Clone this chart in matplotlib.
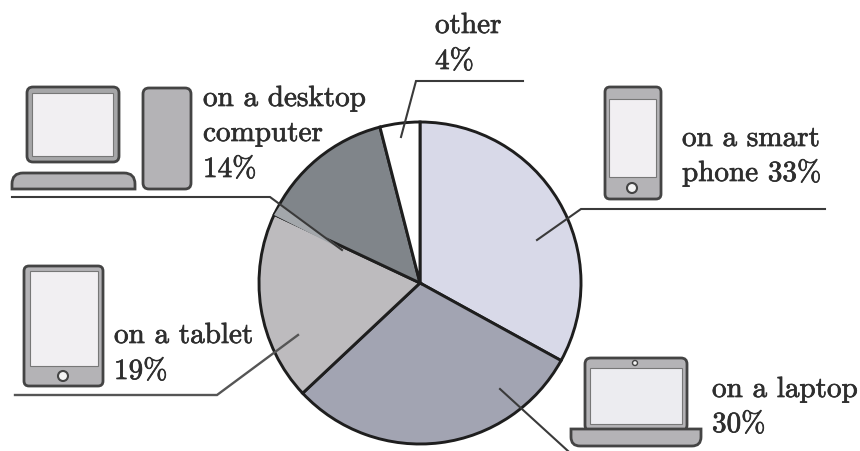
import matplotlib
matplotlib.use("Agg")
import matplotlib.pyplot as plt
import matplotlib.patheffects as pe
from matplotlib.patches import FancyBboxPatch, Circle, Polygon, PathPatch
from matplotlib.path import Path

plt.rcParams['font.family'] = ['cmr10', 'DejaVu Serif']
plt.rcParams['axes.unicode_minus'] = False
plt.rcParams['axes.formatter.use_mathtext'] = True

categories = ["on a smart phone", "on a laptop", "on a tablet", "on a desktop computer", "other"]
shares = [33, 30, 19, 14, 4]
colors = ["#d8d9e8", "#a2a4b2", "#bdbbbe", "#80858a", "#ffffff"]

W, H = 860, 452
fig = plt.figure(figsize=(W / 100, H / 100), dpi=100)
ax = fig.add_axes([0, 0, 1, 1])

def Y(py):
    return H - py

ax.pie(shares, colors=colors, startangle=90, counterclock=False,
       center=(420, Y(284)), radius=161, normalize=True,
       wedgeprops=dict(edgecolor="#1e1e1e", linewidth=2.1), frame=True)
ax.set_xlim(0, W)
ax.set_ylim(0, H)
ax.set_aspect("equal")
ax.axis("off")

INK = "#444444"
SCREEN = "#f1eff2"
BODY = "#b4b3b6"

def rbox(x0, y0, x1, y1, fc, r=4, lw=2.0, ec=INK, z=3):
    ax.add_patch(FancyBboxPatch((x0 + r, Y(y1) + r), x1 - x0 - 2 * r, y1 - y0 - 2 * r,
                                boxstyle=f"round,pad={r},rounding_size={r}",
                                fc=fc, ec=ec, lw=lw, zorder=z))

def rect(x0, y0, x1, y1, fc, lw=0.8, ec="#777777", z=4):
    ax.add_patch(plt.Rectangle((x0, Y(y1)), x1 - x0, y1 - y0, fc=fc, ec=ec, lw=lw, zorder=z))

def circ(x, y, r, fc="#f4f4f4", lw=1.5):
    ax.add_patch(Circle((x, Y(y)), r, fc=fc, ec=INK, lw=lw, zorder=5))

def leader(points, color="#3a3a3a", lw=1.5):
    ax.plot([p[0] for p in points], [Y(p[1]) for p in points], color=color, lw=lw, zorder=6,
            solid_joinstyle="miter", clip_on=True)

def top_round(x0, y0, x1, y1, r, fc, ec=INK, lw=2.0):
    verts = [(x0, Y(y1)), (x0, Y(y0 + r)), (x0, Y(y0)), (x0 + r, Y(y0)), (x1 - r, Y(y0)),
             (x1, Y(y0)), (x1, Y(y0 + r)), (x1, Y(y1)), (x0, Y(y1))]
    codes = [Path.MOVETO, Path.LINETO, Path.CURVE3, Path.CURVE3, Path.LINETO,
             Path.CURVE3, Path.CURVE3, Path.LINETO, Path.CLOSEPOLY]
    ax.add_patch(PathPatch(Path(verts, codes), fc=fc, ec=ec, lw=lw, zorder=3))

def bottom_round(x0, y0, x1, y1, r, fc, ec=INK, lw=2.0):
    verts = [(x0, Y(y0)), (x1, Y(y0)), (x1, Y(y1 - r)), (x1, Y(y1)), (x1 - r, Y(y1)),
             (x0 + r, Y(y1)), (x0, Y(y1)), (x0, Y(y1 - r)), (x0, Y(y0))]
    codes = [Path.MOVETO, Path.LINETO, Path.LINETO, Path.CURVE3, Path.CURVE3,
             Path.LINETO, Path.CURVE3, Path.CURVE3, Path.CLOSEPOLY]
    ax.add_patch(PathPatch(Path(verts, codes), fc=fc, ec=ec, lw=lw, zorder=3))

# desktop icon
rbox(27, 88, 119, 163, "#a6a6a8", r=6)
rect(32, 94, 113, 157, SCREEN)
top_round(12, 174, 135, 190, 11, BODY)
rbox(143, 89, 191, 190, BODY, r=6)

# phone icon
rbox(605, 88, 661, 200, BODY, r=5)
rect(609, 100, 656, 178, SCREEN)
circ(632, 189, 5)

# tablet icon
rbox(24, 267, 103, 387, BODY, r=5)
rect(30, 272, 98, 367, SCREEN)
circ(63, 377, 5)

# laptop icon
rbox(585, 359, 687, 432, BODY, r=6)
rect(590, 369, 682, 425, "#ececf0")
circ(635, 364, 2.5, lw=1.0)
bottom_round(571, 430, 701, 447, 9, BODY)

# sliver beside the desktop leader
ax.add_patch(Polygon([(274, Y(216)), (281, Y(205)), (345, Y(252))], fc="#a3a7ab", ec="none", zorder=2.5))

# leaders
leader([(12, 198), (270, 198), (342, 251)])
leader([(825, 210), (581, 210), (537, 241)])
leader([(15, 396), (217, 396), (298, 336)], color="#555555", lw=1.7)
leader([(523, 82), (416, 82), (401, 138)])
leader([(500, 390), (568, 452)])

labels = [
    (203, 107, "on a desktop"), (203, 142, "computer"), (203, 178, "14%"),
    (435, 34, "other"), (435, 70, "4%"),
    (682, 147, "on a smart"), (682, 182, "phone 33%"),
    (114, 344, "on a tablet"), (114, 380, "19%"),
    (712, 398, "on a laptop"), (712, 433, "30%"),
]
for x, y, s in labels:
    t = ax.text(x, Y(y), s, fontsize=21, color="#2e2e2e", ha="left", va="baseline", zorder=7)
    t.set_path_effects([pe.withStroke(linewidth=0.5, foreground="#2e2e2e")])

fig.savefig("out.png", dpi=100)
